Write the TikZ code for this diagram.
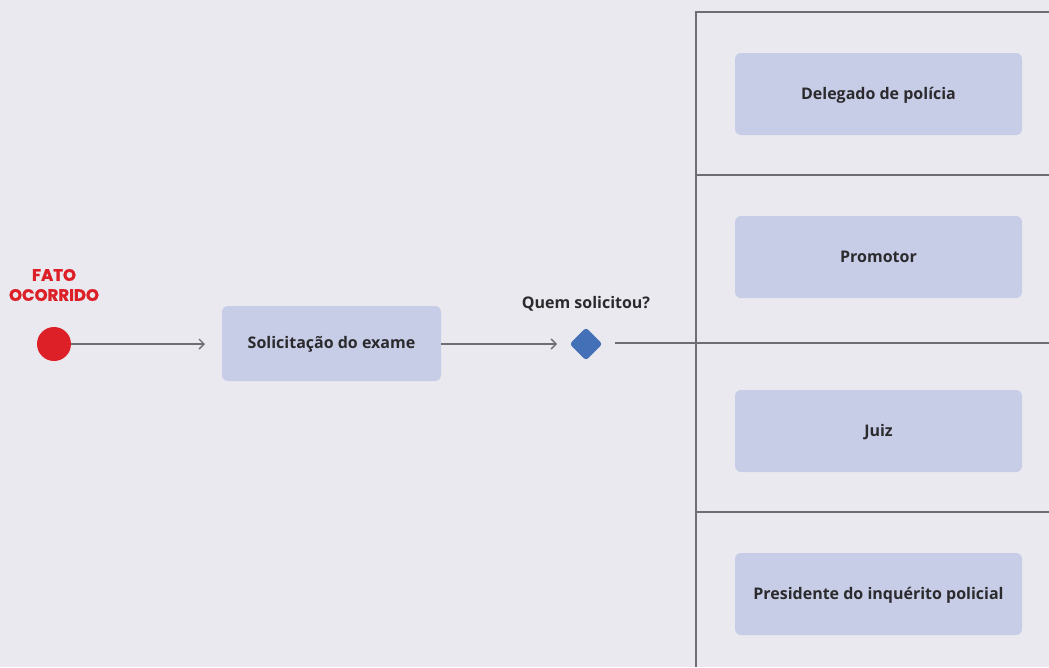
\documentclass[tikz,border=0pt]{standalone}
\usepackage{fontspec}
\setmainfont{Open Sans}
\newfontfamily\headfont{Poppins}[BoldFeatures={FakeBold=1.2}]
\usetikzlibrary{arrows.meta,shapes.geometric}
\definecolor{bg}{HTML}{EAE9EF}
\definecolor{frame}{HTML}{6D6D72}
\definecolor{boxfill}{HTML}{C8CDE7}
\definecolor{startred}{HTML}{DD2027}
\definecolor{diam}{HTML}{4470B8}
\definecolor{txt}{HTML}{2B2B2E}
\tikzset{
  actbox/.style={fill=boxfill, rounded corners=6pt, draw=none, minimum width=287pt, minimum height=82pt, font=\fontsize{16}{18}\selectfont\bfseries, text=txt, inner sep=0pt, text height=10pt, text depth=0pt},
  flow/.style={draw=frame, line width=1.4pt, -{Straight Barb[length=5pt,width=10pt,line width=1.4pt]}},
  lane/.style={draw=frame, line width=2pt},
  lbl/.style={font=\fontsize{16}{18}\selectfont\bfseries, text=txt, inner sep=0pt, text height=10pt, text depth=0pt}
}
\begin{document}
\begin{tikzpicture}[x=1pt,y=-1pt]
\fill[bg] (0,0) rectangle (1049,667);
\useasboundingbox (0,0) rectangle (1049,667);
% lanes
\coordinate (ltop) at (696,12);
\coordinate (lbot) at (696,667);
\coordinate (rtop) at (1049,12);
\draw[lane] (lbot) -- (ltop) -- (rtop);
\coordinate (s1l) at (696,175); \coordinate (s1r) at (1049,175);
\coordinate (s3l) at (696,512); \coordinate (s3r) at (1049,512);
\draw[lane] (s1l) -- (s1r);
\draw[lane] (s3l) -- (s3r);
% start
\node[circle, fill=startred, minimum size=34pt, inner sep=0pt] (start) at (54,344) {};
\node[font=\headfont\fontsize{16.5}{20}\selectfont\bfseries, text=startred, align=center, inner sep=0pt] (fato) at (54,285) {FATO\\OCORRIDO};
% activity
\node[actbox, minimum width=219pt, minimum height=75pt] (sol) at (331.5,343.5) {Solicitação do exame};
% decision
\node[diamond, fill=diam, minimum width=33pt, minimum height=33pt, inner sep=0pt, rounded corners=3pt] (dec) at (586,344) {};
\node[lbl] (q) at (586,303) {Quem solicitou?};
% options
\node[actbox] (b1) at (878.5,94) {Delegado de polícia};
\node[actbox] (b2) at (878.5,257) {Promotor};
\node[actbox] (b3) at (878.5,431) {Juiz};
\node[actbox] (b4) at (878.5,594) {Presidente do inquérito policial};
% connectors
\coordinate (a1end) at (205,344);
\coordinate (a2end) at (557,344);
\draw[flow] (start.east) -- (a1end);
\draw[flow] (sol.east |- a2end) -- (a2end);
\coordinate (d0) at (615,343);
\coordinate (d1) at (1049,343);
\draw[lane] (d0) -- (d1);
\end{tikzpicture}
\end{document}
